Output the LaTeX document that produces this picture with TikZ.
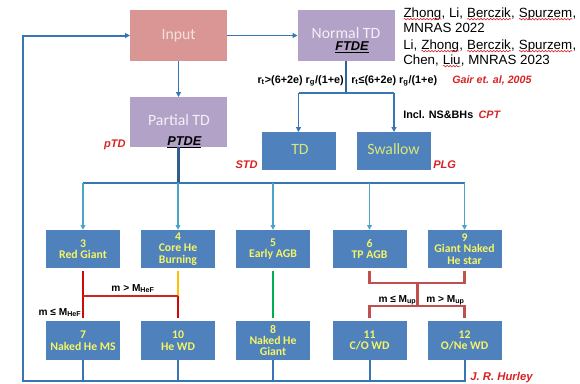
\documentclass[tikz,border=0pt]{standalone}
\usepackage{fontspec}
\setmainfont{Liberation Sans}
\newfontfamily\carl{Carlito}
\usetikzlibrary{arrows.meta,decorations.pathmorphing}
\definecolor{pinkbox}{RGB}{218,150,148}
\definecolor{pinktext}{RGB}{245,225,225}
\definecolor{purpbox}{RGB}{179,162,199}
\definecolor{purptext}{RGB}{242,240,248}
\definecolor{bluebox}{RGB}{79,129,189}
\definecolor{linkblue}{RGB}{55,118,182}
\definecolor{darkblue}{RGB}{50,92,140}
\definecolor{lightblue}{RGB}{75,165,200}
\definecolor{hred}{RGB}{215,35,35}
\definecolor{dred}{RGB}{192,80,77}
\definecolor{byellow}{RGB}{245,245,100}
\definecolor{tdtext}{RGB}{215,232,120}
\definecolor{lred}{RGB}{205,10,10}
\definecolor{orangey}{RGB}{255,192,0}
\definecolor{gline}{RGB}{0,176,80}
\newcommand\wv[1]{\tikz[baseline=(w.base)]{\node[inner sep=0pt,outer sep=0pt,anchor=base](w){#1};\draw[hred,line width=0.45pt,decorate,decoration={snake,amplitude=0.55pt,segment length=2.4pt}] ([yshift=-1.6pt]w.base west) -- ([yshift=-1.6pt]w.base east);}}
\begin{document}
\begin{tikzpicture}[x=0.75pt,y=-0.75pt,
  bigbox/.style={minimum width=72.75pt,minimum height=38.25pt,inner sep=0pt,outer sep=0pt},
  midbox/.style={fill=bluebox,minimum width=55.5pt,minimum height=28.5pt,inner sep=0pt,outer sep=0pt},
  rowbox/.style={fill=bluebox,minimum width=55.5pt,minimum height=28.75pt,inner sep=0pt,outer sep=0pt,align=center,text=byellow,font=\carl\bfseries\fontsize{8.8}{8.6}\selectfont},
  boxtext/.style={inner sep=0pt,font=\carl\fontsize{11.8}{12}\selectfont},
  lbl/.style={inner sep=0pt,font=\bfseries\fontsize{8.1}{9}\selectfont},
  redlbl/.style={inner sep=0pt,text=hred,font=\bfseries\itshape\fontsize{8.3}{9}\selectfont},
  mlbl/.style={inner sep=0pt,font=\bfseries\fontsize{7.6}{9}\selectfont},
  reftext/.style={inner sep=0pt,anchor=base west,font=\fontsize{10}{11}\selectfont},
  arr/.style={-{Triangle[length=3.6pt,width=3.6pt]}},
  thinlink/.style={linkblue,line width=1.1pt},
  rowarr/.style={lightblue,line width=1pt,arr},
  redv/.style={lred,line width=2.2pt},
  gap/.style={shorten <=2.2pt,shorten >=2.2pt}]
\useasboundingbox (0,0) rectangle (580,383);
% top boxes
\node[bigbox,fill=pinkbox] (input) at (178.5,35.5) {};
\node[bigbox,fill=purpbox] (ntd) at (346,35.5) {};
\node[bigbox,fill=purpbox,minimum height=37.5pt] (ptd) at (178.5,122) {};
\node[midbox] (td) at (298.5,151) {};
\node[midbox] (sw) at (394,151) {};
% texts in top boxes
\node[boxtext,anchor=base,text=pinktext] (tin) at (178.7,39.3) {Input};
\node[boxtext,anchor=base,text=purptext] (tntd) at (346,38) {Normal TD};
\node[boxtext,anchor=base,text=purptext] (tptd) at (179,125) {Partial TD};
\node[boxtext,anchor=base,text=tdtext] (ttd) at (300,154) {TD};
\node[boxtext,anchor=base,text=tdtext] (tsw) at (393.5,154) {Swallow};
\node[inner sep=0pt,anchor=base west,font=\bfseries\itshape\fontsize{9.6}{10}\selectfont] (ftde) at (335,50) {\underline{FTDE}};
\node[inner sep=0pt,anchor=base west,font=\bfseries\itshape\fontsize{9.6}{10}\selectfont] (ptde) at (167,145) {\underline{PTDE}};
% row boxes
\node[rowbox] (n3) at (83,249) {3\\Red Giant};
\node[rowbox] (n4) at (178,249) {4\\Core He\\Burning};
\node[rowbox] (n5) at (273,249) {5\\Early AGB};
\node[rowbox] (n6) at (369.5,249) {6\\TP AGB};
\node[rowbox] (n9) at (464.5,249) {9\\Giant Naked\\He star};
\node[rowbox] (n7) at (83,340.5) {7\\Naked He MS};
\node[rowbox] (n10) at (178,340.5) {10\\He WD};
\node[rowbox] (n8) at (273,340.5) {8\\Naked He\\Giant};
\node[rowbox] (n11) at (369.5,340.5) {11\\C/O WD};
\node[rowbox] (n12) at (464.5,340.5) {12\\O/Ne WD};
% coordinates
\coordinate (fbL) at (23,381);
\coordinate (split) at (346,93);
\coordinate (bus) at (178,183);
\coordinate (hef) at (178,296);
\coordinate (upA) at (417.5,283);
\coordinate (upB) at (417.5,306);
% top connectors
\draw[thinlink,arr] (input.east) -- (ntd.west);
\draw[thinlink,arr] (input.south) -- (ptd.north);
\draw[linkblue,line width=1.5pt,arr] (n12.south) |- (fbL) |- (input.west);
\foreach \n in {n7,n10,n8,n11} \draw[linkblue,line width=1.5pt] (\n.south) -- (\n.south |- fbL);
% normal TD split
\draw[linkblue!85!black,line width=2.2pt] (ntd.south) -- (split);
\draw[linkblue,line width=1.5pt] (td.north |- split) -- (sw.north |- split);
\draw[linkblue,line width=1.1pt,arr] (td.north |- split) -- (td.north);
\draw[linkblue,line width=1.1pt,arr] (sw.north |- split) -- (sw.north);
% partial TD bus
\draw[darkblue,line width=2pt] (ptd.south) -- (ptd.south |- bus);
\draw[linkblue,line width=1.5pt] (n3.north |- bus) -- (n9.north |- bus);
\foreach \n in {n3,n4,n5,n6,n9} \draw[rowarr] (\n.north |- bus) -- (\n.north);
% red / yellow / green branches
\draw[redv,gap] (n3.south) -- (n7.north);
\draw[orangey,line width=2.2pt,shorten <=2.2pt] (n4.south) -- (hef);
\draw[redv,shorten >=2.2pt] (hef) -- (n10.north);
\draw[lred!90!white,line width=1.1pt] (n3.south |- hef) -- (hef);
\draw[gline,line width=2.2pt,gap] (n5.south) -- (n8.north);
\draw[dred,line width=1.6pt,shorten <=2.2pt] (n6.south) |- (upA);
\draw[dred,line width=1.6pt,shorten <=2.2pt] (n9.south) |- (upA);
\draw[dred,line width=1.6pt] (upA) -- (upB);
\draw[dred,line width=1.6pt,shorten >=2.2pt] (upB) -| (n11.north);
\draw[dred,line width=1.6pt,shorten >=2.2pt] (upB) -| (n12.north);
% labels
\node[lbl,anchor=base east] (c1) at (344,83) {r\textsubscript{t}>(6+2e) r\textsubscript{g}/(1+e)};
\node[lbl,anchor=base west] (c2) at (351,83) {r\textsubscript{t}≤(6+2e) r\textsubscript{g}/(1+e)};
\node[redlbl,anchor=base west,font=\bfseries\itshape\fontsize{8}{9}\selectfont] (gair) at (452,83) {Gair et. al, 2005};
\node[lbl,anchor=base west] (incl) at (403,118) {Incl. NS\&BHs\hspace{4pt}\textcolor{hred}{\itshape CPT}};
\node[redlbl,anchor=base east] (ptdl) at (126,147) {pTD};
\node[redlbl,anchor=base east] (stdl) at (258,168) {STD};
\node[redlbl,anchor=base west] (plgl) at (433,168) {PLG};
\node[redlbl,anchor=base west,font=\bfseries\itshape\fontsize{8.5}{9}\selectfont] (jrh) at (470,380) {J. R. Hurley};
\node[mlbl,anchor=base] (m1) at (133,291) {m > M\textsubscript{HeF}};
\node[mlbl,anchor=base] (m2) at (60,315) {m ≤ M\textsubscript{HeF}};
\node[mlbl,anchor=base] (m3) at (397.5,302) {m ≤ M\textsubscript{up}};
\node[mlbl,anchor=base] (m4) at (445.5,302) {m > M\textsubscript{up}};
% references
\node[reftext] (r1) at (403,17) {\wv{Zhong}, Li, \wv{Berczik}, \wv{Spurzem},};
\node[reftext] (r2) at (403,32) {MNRAS 2022};
\node[reftext] (r3) at (403,49) {Li, \wv{Zhong}, \wv{Berczik}, \wv{Spurzem},};
\node[reftext] (r4) at (403,64) {Chen, \wv{Liu}, MNRAS 2023};
\end{tikzpicture}
\end{document}
